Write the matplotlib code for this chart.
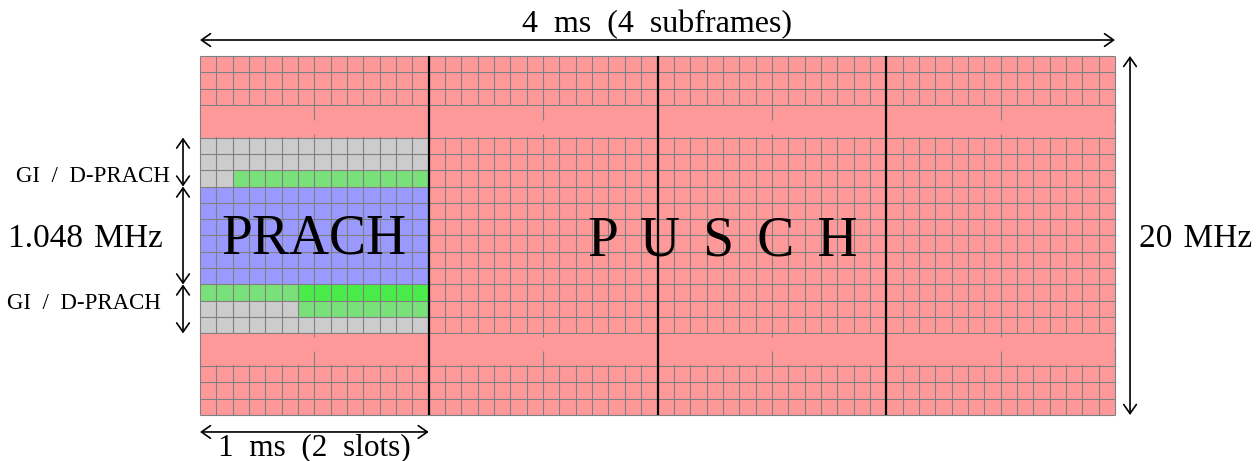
import matplotlib
matplotlib.use("Agg")
import matplotlib.pyplot as plt
from matplotlib.patches import Rectangle

# resource grid layout (cell units: 1 column = 1 SC-FDMA symbol, 1 row = 1 block)
n_subframes = 4
slots_per_subframe = 2
symbols_per_slot = 7
n_rows = 22
band_rows = [(3, 5), (17, 19)]          # merged pink bands (row ranges)

# PRACH area inside the first subframe: (x0, x1, y0, y1)
gray_area = (0, 14, 5, 17)
blue_area = (0, 14, 8, 14)
green_areas = [(2, 14, 14, 15), (0, 14, 7, 8), (6, 14, 6, 8)]

# labels
top_label = "4 ms (4 subframes)"
bottom_label = "1 ms (2 slots)"
right_label = "20 MHz"
mid_label = "1.048 MHz"
gi_label = "GI / D-PRACH"
prach_label = "PRACH"
pusch_label = "PUSCH"

pink = (1.0, 0.6, 0.6)
blue = (0.6, 0.6, 1.0)
gray = (0.8, 0.8, 0.8)
line_gray = "#808080"
serif = ["Liberation Serif", "DejaVu Serif"]
ensp = "\u2002"      # wide spaces like the LaTeX original
third = "\u2004"

n_cols = n_subframes * slots_per_subframe * symbols_per_slot
sub_w = slots_per_subframe * symbols_per_slot

fig = plt.figure(figsize=(12.6, 4.61), dpi=100)
ax = fig.add_axes([0, 0, 1, 1])
sx = 915 / n_cols
sy = 359 / n_rows
ax.set_xlim(-200 / sx, (1260 - 200) / sx)
ax.set_ylim(-(461 - 415) / sy, n_rows + 56 / sy)
ax.axis("off")

# background (PUSCH)
ax.add_patch(Rectangle((0, 0), n_cols, n_rows, facecolor=pink, edgecolor="none", zorder=1))

# PRACH region
x0, x1, y0, y1 = gray_area
ax.add_patch(Rectangle((x0, y0), x1 - x0, y1 - y0, facecolor=gray, edgecolor="none", zorder=2))
x0, x1, y0, y1 = blue_area
ax.add_patch(Rectangle((x0, y0), x1 - x0, y1 - y0, facecolor=blue, edgecolor="none", zorder=2))
for x0, x1, y0, y1 in green_areas:
    ax.add_patch(Rectangle((x0, y0), x1 - x0, y1 - y0, facecolor=(0, 1, 0), alpha=0.4,
                           edgecolor="none", zorder=2.5))

# grid
ax.vlines(range(n_cols + 1), 0, n_rows, color=line_gray, lw=0.8, zorder=3)
ax.hlines(range(n_rows + 1), 0, n_cols, color=line_gray, lw=0.8, zorder=3)

# merged bands hide the inner grid, slot edges peek out
slot_edges = range(0, n_cols + 1, symbols_per_slot)
for b0, b1 in band_rows:
    ax.add_patch(Rectangle((0.04, b0 + 0.04), n_cols - 0.08, b1 - b0 - 0.08,
                           facecolor=pink, edgecolor="none", zorder=4))
    if b0 < n_rows / 2:
        ax.vlines(slot_edges, b0, b0 + 0.9, color=line_gray, lw=0.8, zorder=4.5)
        ax.vlines(slot_edges, b1 - 0.25, b1, color=line_gray, lw=0.8, zorder=4.5)
    else:
        ax.vlines(slot_edges, b1 - 0.9, b1, color=line_gray, lw=0.8, zorder=4.5)
        ax.vlines(slot_edges, b0, b0 + 0.25, color=line_gray, lw=0.8, zorder=4.5)

# subframe boundaries
ax.vlines(range(sub_w, n_cols, sub_w), 0, n_rows, color="black", lw=1.6, zorder=5)

# dimension arrows
arr = dict(arrowstyle="<->,head_length=0.5,head_width=0.35", lw=1.2, color="black",
           shrinkA=0, shrinkB=0, mutation_scale=13)
ax.annotate("", xy=(0, 22.98), xytext=(n_cols, 22.98), arrowprops=arr)
ax.annotate("", xy=(n_cols + 0.92, 0), xytext=(n_cols + 0.92, n_rows), arrowprops=arr)
ax.annotate("", xy=(0, -1.04), xytext=(sub_w, -1.04), arrowprops=arr)
for ya, yb in [(gray_area[3], blue_area[3]), (blue_area[3], blue_area[2]),
               (blue_area[2], gray_area[2])]:
    ax.annotate("", xy=(-1.04, ya), xytext=(-1.04, yb), arrowprops=arr)

# texts
ax.text(n_cols / 2, 23.47, top_label.replace(" ", ensp), ha="center", va="baseline",
        fontsize=23, family=serif, zorder=6)
ax.text(sub_w / 2, -2.45, bottom_label.replace(" ", ensp), ha="center", va="baseline",
        fontsize=22.5, family=serif, zorder=6)
ax.text(57.47, 10.3, right_label.replace(" ", third), ha="left", va="baseline",
        fontsize=24, family=serif, zorder=6)
ax.text(-2.26, 10.3, mid_label.replace(" ", third), ha="right", va="baseline",
        fontsize=24, family=serif, zorder=6)
ax.text(-1.84, 14.28, gi_label.replace(" ", ensp), ha="right", va="baseline",
        fontsize=16.5, family=serif, zorder=6)
ax.text(-2.39, 6.5, gi_label.replace(" ", ensp), ha="right", va="baseline",
        fontsize=16.5, family=serif, zorder=6)
ax.text(sub_w / 2, 9.87, prach_label, ha="center", va="baseline",
        fontsize=40, family=serif, zorder=6)
ax.text(32, 9.8, (" \u2006").join(pusch_label), ha="center", va="baseline",
        fontsize=40, family=serif, zorder=6)

fig.savefig("out.png", dpi=100)
